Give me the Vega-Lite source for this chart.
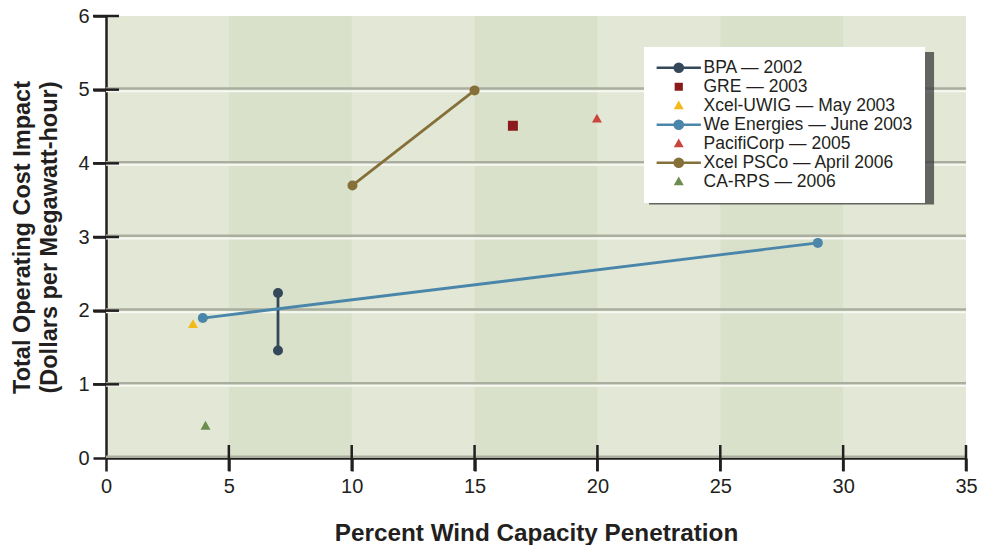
{
  "$schema": "https://vega.github.io/schema/vega-lite/v6.json",
  "width": 860,
  "height": 442,
  "autosize": {"type": "none"},
  "padding": {"left": 106, "top": 16, "right": 15, "bottom": 87},
  "background": "white",
  "config": {
    "view": {"fill": "#e3e8d6", "stroke": null},
    "font": "Liberation Sans",
    "legend": {
      "orient": "none",
      "legendX": 538,
      "legendY": 31,
      "fillColor": "white",
      "padding": 12,
      "labelFontSize": 17.5,
      "labelFont": "Liberation Sans",
      "labelColor": "#231f20",
      "labelLimit": 400,
      "symbolSize": 40,
      "symbolStrokeWidth": 2.5,
      "symbolOpacity": 1,
      "symbolOffset": 14,
      "labelOffset": 16,
      "rowPadding": 0
    }
  },
  "datasets": {
    "pts": [
      {"series": "BPA — 2002", "x": 7.0, "y": 2.24},
      {"series": "BPA — 2002", "x": 7.0, "y": 1.46},
      {"series": "GRE — 2003", "x": 16.56, "y": 4.51},
      {"series": "Xcel-UWIG — May 2003", "x": 3.54, "y": 1.82},
      {"series": "We Energies — June 2003", "x": 3.94, "y": 1.9},
      {"series": "We Energies — June 2003", "x": 28.97, "y": 2.92},
      {"series": "PacifiCorp — 2005", "x": 19.98, "y": 4.61},
      {"series": "Xcel PSCo — April 2006", "x": 10.03, "y": 3.7},
      {"series": "Xcel PSCo — April 2006", "x": 15.0, "y": 4.99},
      {"series": "CA-RPS — 2006", "x": 4.05, "y": 0.44}
    ],
    "bands": [{"start": 5, "end": 10}, {"start": 15, "end": 20}, {"start": 25, "end": 30}],
    "grid": [{"v": 0}, {"v": 1}, {"v": 2}, {"v": 3}, {"v": 4}, {"v": 5}],
    "xt": [{"v": 5}, {"v": 10}, {"v": 15}, {"v": 20}, {"v": 25}, {"v": 30}, {"v": 35}],
    "yt": [{"v": 1}, {"v": 2}, {"v": 3}, {"v": 4}, {"v": 5}, {"v": 6}],
    "shadow": [{"x1": 22.1, "x2": 33.7, "y1": 3.44, "y2": 5.51}]
  },
  "layer": [
    {
      "data": {"name": "bands"},
      "mark": {"type": "rect", "color": "#d9e1cb"},
      "encoding": {
        "x": {
          "field": "start", "type": "quantitative",
          "scale": {"domain": [0, 35], "nice": false, "zero": false},
          "axis": {
            "title": "Percent Wind Capacity Penetration",
            "values": [0, 5, 10, 15, 20, 25, 30, 35],
            "format": "d",
            "grid": false,
            "domainColor": "#231f20", "domainWidth": 2.5,
            "tickColor": "#231f20", "tickWidth": 2.5, "tickSize": 13,
            "labelFontSize": 20, "labelColor": "#231f20", "labelPadding": 5,
            "labelFlush": false, "labelFont": "Liberation Sans",
            "titleFont": "Liberation Sans", "titleFontSize": 24.3, "titleFontWeight": "bold",
            "titleColor": "#231f20", "titlePadding": 25
          }
        },
        "x2": {"field": "end"}
      }
    },
    {
      "data": {"name": "grid"},
      "mark": {"type": "rule", "color": "#a9ae9f", "strokeWidth": 2.5, "yOffset": -1.2},
      "encoding": {
        "y": {
          "field": "v", "type": "quantitative",
          "scale": {"domain": [0, 6], "nice": false, "zero": false},
          "axis": {
            "title": ["Total Operating Cost Impact", "(Dollars per Megawatt-hour)"],
            "values": [0, 1, 2, 3, 4, 5, 6],
            "format": "d",
            "grid": false,
            "domainColor": "#231f20", "domainWidth": 2.5,
            "tickColor": "#231f20", "tickWidth": 2.5, "tickSize": 13,
            "labelFontSize": 20, "labelColor": "#231f20", "labelPadding": 4,
            "labelFlush": false, "labelFont": "Liberation Sans",
            "titleFont": "Liberation Sans", "titleFontSize": 23.5, "titleFontWeight": "bold",
            "titleColor": "#231f20", "titlePadding": 16, "titleLineHeight": 27
          }
        }
      }
    },
    {
      "data": {"name": "grid"},
      "transform": [{"filter": "datum.v > 0"}],
      "mark": {"type": "rule", "color": "#f7f8f2", "strokeWidth": 2, "yOffset": 1.5},
      "encoding": {
        "y": {"field": "v", "type": "quantitative"}
      }
    },
    {
      "data": {"name": "shadow"},
      "mark": {"type": "rect", "color": "#3a3a3a", "opacity": 0.75},
      "encoding": {
        "x": {"field": "x1", "type": "quantitative"},
        "x2": {"field": "x2"},
        "y": {"field": "y1", "type": "quantitative"},
        "y2": {"field": "y2"}
      }
    },
    {
      "data": {"name": "pts"},
      "transform": [{"filter": "indexof(['BPA — 2002','We Energies — June 2003','Xcel PSCo — April 2006'], datum.series) >= 0"}],
      "mark": {"type": "line", "strokeWidth": 2.8},
      "encoding": {
        "x": {"field": "x", "type": "quantitative"},
        "y": {"field": "y", "type": "quantitative"},
        "stroke": {
          "field": "series", "type": "nominal",
          "scale": {
            "domain": ["BPA — 2002", "GRE — 2003", "Xcel-UWIG — May 2003", "We Energies — June 2003", "PacifiCorp — 2005", "Xcel PSCo — April 2006", "CA-RPS — 2006"],
            "range": ["#35485a", "#8b1a1c", "#f2b918", "#4a86aa", "#c9463d", "#86703a", "#6b8d50"]
          },
          "legend": {"title": null}
        }
      }
    },
    {
      "data": {"name": "pts"},
      "transform": [{"filter": "indexof(['BPA — 2002','We Energies — June 2003','Xcel PSCo — April 2006'], datum.series) >= 0"}],
      "mark": {"type": "point", "shape": "circle", "filled": true, "opacity": 1, "size": 100},
      "encoding": {
        "x": {"field": "x", "type": "quantitative"},
        "y": {"field": "y", "type": "quantitative"},
        "fill": {
          "field": "series", "type": "nominal",
          "scale": {
            "domain": ["BPA — 2002", "GRE — 2003", "Xcel-UWIG — May 2003", "We Energies — June 2003", "PacifiCorp — 2005", "Xcel PSCo — April 2006", "CA-RPS — 2006"],
            "range": ["#35485a", "#8b1a1c", "#f2b918", "#4a86aa", "#c9463d", "#86703a", "#6b8d50"]
          },
          "legend": {"title": null}
        }
      }
    },
    {
      "data": {"name": "pts"},
      "transform": [{"filter": "indexof(['BPA — 2002','We Energies — June 2003','Xcel PSCo — April 2006'], datum.series) < 0"}],
      "mark": {"type": "point", "filled": true, "opacity": 1, "size": 123},
      "encoding": {
        "x": {"field": "x", "type": "quantitative"},
        "y": {"field": "y", "type": "quantitative"},
        "fill": {"field": "series", "type": "nominal", "legend": {"title": null}},
        "shape": {
          "field": "series", "type": "nominal",
          "scale": {
            "domain": ["BPA — 2002", "GRE — 2003", "Xcel-UWIG — May 2003", "We Energies — June 2003", "PacifiCorp — 2005", "Xcel PSCo — April 2006", "CA-RPS — 2006"],
            "range": [
              "M-7,0H7M1.3,0A1.3,1.3,0,1,1,-1.3,0A1.3,1.3,0,1,1,1.3,0Z",
              "M-0.9,-0.9H0.9V0.9H-0.9Z",
              "M0,-0.85L0.9,0.75L-0.9,0.75Z",
              "M-7,0H7M1.3,0A1.3,1.3,0,1,1,-1.3,0A1.3,1.3,0,1,1,1.3,0Z",
              "M0,-0.85L0.9,0.75L-0.9,0.75Z",
              "M-7,0H7M1.3,0A1.3,1.3,0,1,1,-1.3,0A1.3,1.3,0,1,1,1.3,0Z",
              "M0,-0.85L0.9,0.75L-0.9,0.75Z"
            ]
          },
          "legend": {"title": null}
        }
      }
    },
    {
      "data": {"name": "xt"},
      "mark": {"type": "tick", "orient": "vertical", "size": 26, "thickness": 2.5, "color": "#231f20", "opacity": 1},
      "encoding": {
        "x": {"field": "v", "type": "quantitative"},
        "y": {"datum": 0, "type": "quantitative"}
      }
    },
    {
      "data": {"name": "yt"},
      "mark": {"type": "tick", "orient": "horizontal", "size": 26, "thickness": 2.5, "color": "#231f20", "opacity": 1},
      "encoding": {
        "y": {"field": "v", "type": "quantitative"},
        "x": {"datum": 0, "type": "quantitative"}
      }
    }
  ]
}
